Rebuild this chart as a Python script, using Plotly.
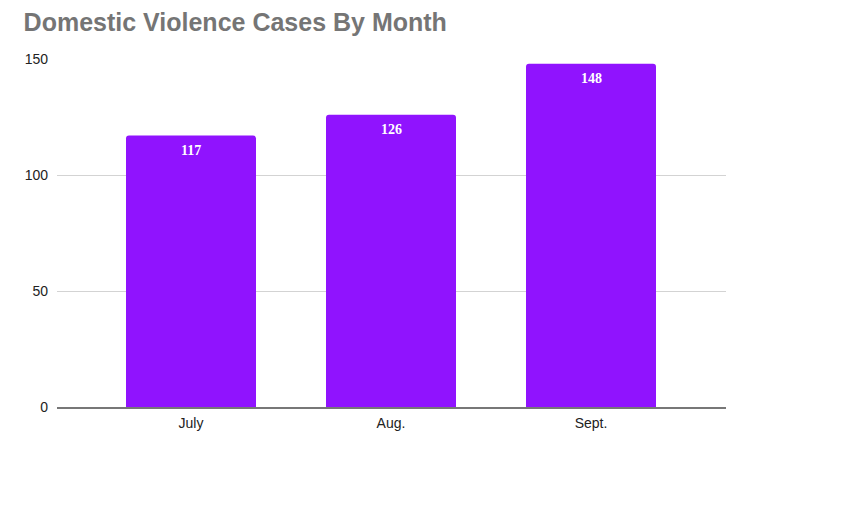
import plotly.graph_objects as go

months = ['July', 'Aug.', 'Sept.']
cases = [117, 126, 148]
y_ticks = [0, 50, 100, 150]

fig = go.Figure()
fig.add_trace(go.Bar(
    x=months, y=cases,
    marker=dict(color='#9013FE', cornerradius=3, line=dict(width=0)),
))

# value labels sit just below the top of each bar
for m, v in zip(months, cases):
    fig.add_annotation(x=m, y=v, text='<b>%d</b>' % v, showarrow=False,
                       yanchor='middle', yshift=-15,
                       font=dict(family='Liberation Serif', size=14, color='white'))

# page has an 8px body margin, so the margins are shifted to compensate
fig.update_layout(
    width=867, height=529,
    paper_bgcolor='white', plot_bgcolor='white',
    margin=dict(l=49, r=149, t=51, b=130),
    bargap=0.35,
    showlegend=False,
    title=dict(text='<b>Domestic Violence Cases By Month</b>',
               x=0.018, xanchor='left', y=0.974, yanchor='middle',
               font=dict(family='Arial', size=25, color='#757575')),
    font=dict(family='Arial', size=14, color='#222222'),
)
fig.update_yaxes(range=[0, 150], tickvals=y_ticks, showgrid=True,
                 gridcolor='#d3d3d3', gridwidth=1, zeroline=False,
                 ticks='', ticklabelstandoff=8, fixedrange=True)
fig.update_xaxes(range=[-0.67, 2.675], showline=True, linecolor='#777777',
                 linewidth=2, ticks='', showgrid=False, ticklabelstandoff=2)

fig.write_html("out.html")
